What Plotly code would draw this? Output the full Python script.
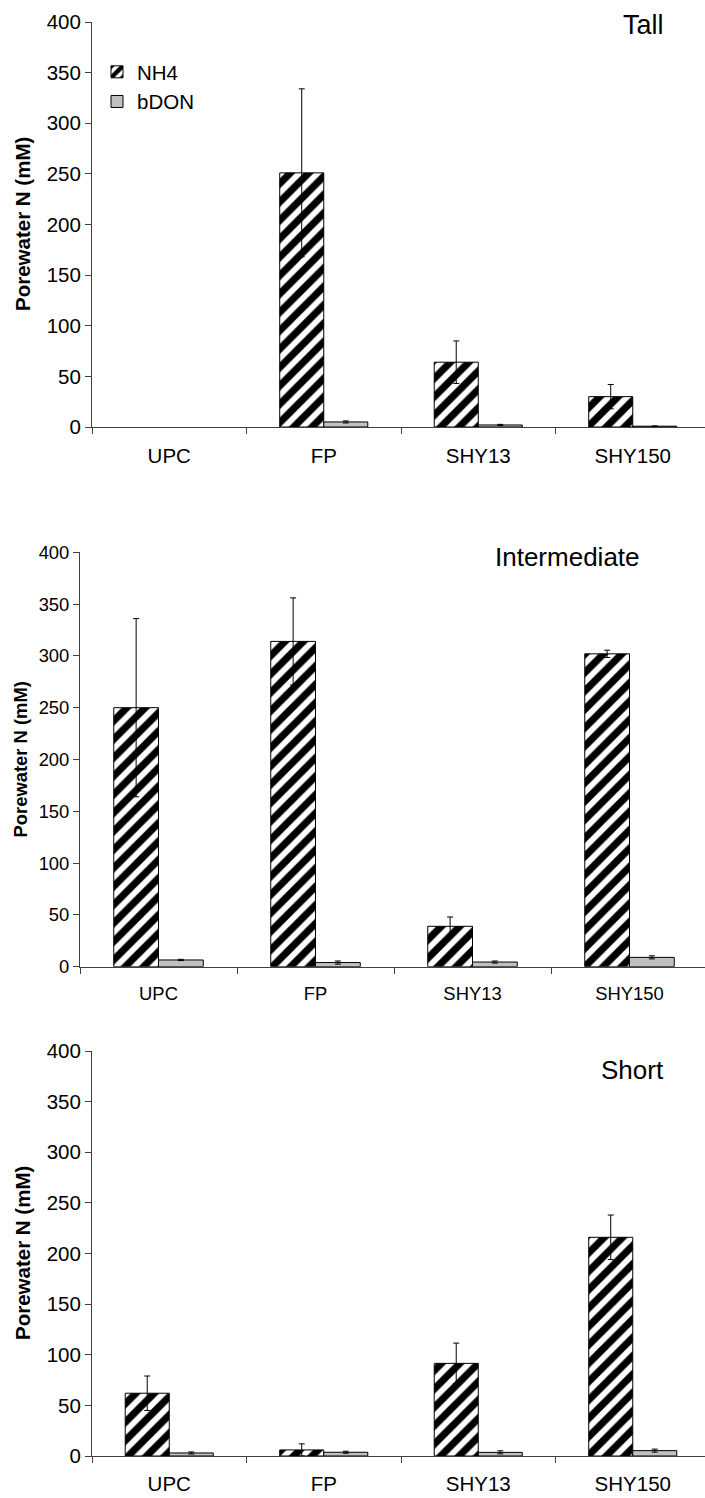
import plotly.graph_objects as go

categories = ["UPC", "FP", "SHY13", "SHY150"]

tall_nh4 = [None, 251, 64, 30]
tall_nh4_err = [None, 83, 21, 12]
tall_don = [None, 5, 2, 0.8]
tall_don_err = [None, 1, 0.6, 0.3]

inter_nh4 = [250, 314, 39, 302]
inter_nh4_err = [86, 42, 9, 3.5]
inter_don = [6.5, 4, 4.5, 9]
inter_don_err = [0.6, 1.5, 1, 1.5]

short_nh4 = [62, 6, 91.5, 216]
short_nh4_err = [17, 6, 20, 22]
short_don = [3, 3.7, 3.6, 5.3]
short_don_err = [1, 1, 1.5, 1.5]

panel_titles = ["Tall", "Intermediate", "Short"]
series_names = ["NH4", "bDON"]
y_title = "Porewater N (mM)"

W, H = 705, 1498
FONT = "Liberation Sans, Arial, sans-serif"
AXCOL = "#404040"

panels = [
    (tall_nh4, tall_nh4_err, tall_don, tall_don_err),
    (inter_nh4, inter_nh4_err, inter_don, inter_don_err),
    (short_nh4, short_nh4_err, short_don, short_don_err),
]

# pixel geometry of each panel: (x_left, cat_width, y_top, y_bottom, font, label_standoff)
geom = [
    (92, 154.5, 22, 427, 20.5, 10),
    (80, 157.0, 552.3, 966.7, 18.4, 10),
    (92, 154.5, 1051, 1456, 20.5, 9),
]

fig = go.Figure()
layout = {}
for i, ((nh4, nh4e, don, done), (xl, cw, yt, yb, fs, so)) in enumerate(zip(panels, geom)):
    sfx = "" if i == 0 else str(i + 1)
    xa, ya = "x" + sfx, "y" + sfx
    fig.add_trace(go.Bar(
        x=categories, y=nh4, name=series_names[0], xaxis=xa, yaxis=ya,
        marker=dict(color="white",
                    pattern=dict(shape="/", fgcolor="black", bgcolor="white",
                                 fgopacity=1, size=13, solidity=0.55),
                    line=dict(color="black", width=1)),
        error_y=dict(type="data", array=nh4e, color="black", thickness=1, width=3),
        showlegend=(i == 0),
    ))
    fig.add_trace(go.Bar(
        x=categories, y=don, name=series_names[1], xaxis=xa, yaxis=ya,
        marker=dict(color="#c0c0c0", line=dict(color="black", width=1)),
        error_y=dict(type="data", array=done, color="black", thickness=1, width=3),
        showlegend=(i == 0),
    ))
    xr = [-0.5, -0.5 + (W - xl) / cw]
    layout["xaxis" + sfx] = dict(
        domain=[xl / W, 1], range=xr, anchor=ya, type="category",
        showline=True, linecolor=AXCOL, linewidth=1, showgrid=False, zeroline=False,
        ticks="outside", tickson="boundaries", ticklen=6, tickcolor=AXCOL,
        tickfont=dict(family=FONT, size=fs, color="black"), ticklabelstandoff=so,
        automargin=False,
    )
    layout["yaxis" + sfx] = dict(
        domain=[1 - yb / H, 1 - yt / H], range=[0, 400], anchor=xa, dtick=50,
        showline=True, linecolor=AXCOL, linewidth=1, showgrid=False, zeroline=False,
        ticks="outside", ticklen=6, tickcolor=AXCOL,
        tickfont=dict(family=FONT, size=fs, color="black"),
        automargin=False,
    )

annotations = []
ytitle_x = [22.5, 20, 22.5]
for i, (xl, cw, yt, yb, fs, so) in enumerate(geom):
    annotations.append(dict(
        text="<b>%s</b>" % y_title, textangle=-90, showarrow=False,
        xref="paper", yref="paper", x=ytitle_x[i] / W, y=1 - (yt + yb) / 2 / H,
        xanchor="center", yanchor="middle",
        font=dict(family=FONT, size=fs, color="black"),
    ))

title_pos = [(666, 25, 27), (642, 557, 26), (666, 1070, 26)]
for t, (xr_, yc, fs) in zip(panel_titles, title_pos):
    annotations.append(dict(
        text=t, showarrow=False, xref="paper", yref="paper",
        x=xr_ / W, y=1 - yc / H, xanchor="right", yanchor="middle",
        font=dict(family=FONT, size=fs, color="black"),
    ))

fig.update_layout(
    width=W, height=H, margin=dict(l=0, r=0, t=0, b=0, autoexpand=False),
    paper_bgcolor="white", plot_bgcolor="white",
    barmode="group", bargap=0.43, bargroupgap=0,
    legend=dict(x=97 / W, y=1 - 52 / H, xanchor="left", yanchor="top",
                font=dict(family=FONT, size=20.5, color="black"),
                bgcolor="rgba(0,0,0,0)", tracegroupgap=0),
    annotations=annotations,
    **layout,
)

fig.write_html("out.html", post_script="document.body.style.margin='0';")
